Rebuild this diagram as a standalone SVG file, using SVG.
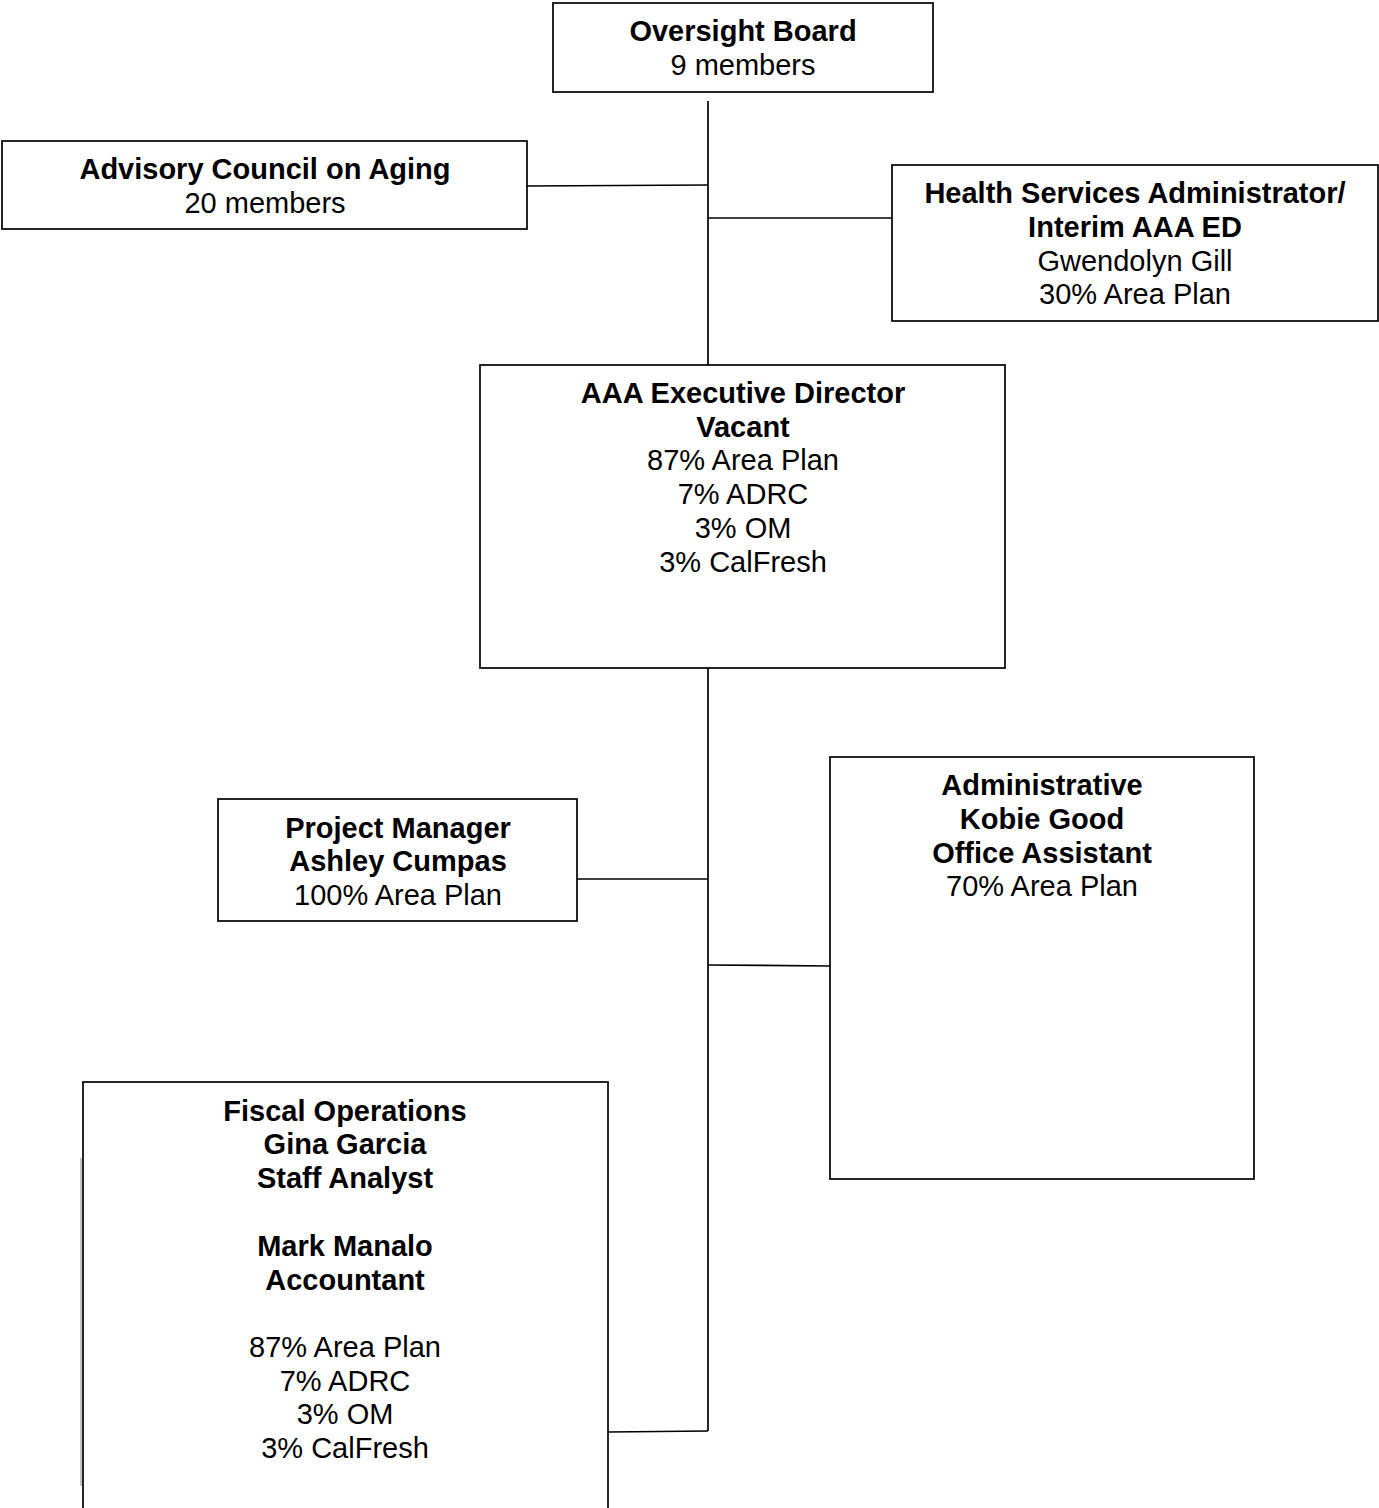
<svg xmlns="http://www.w3.org/2000/svg" width="1379" height="1508" viewBox="0 0 1379 1508">
<style>
.box{fill:#fff;stroke:#000;stroke-width:1.7}
.ln{stroke:#000;stroke-width:1.7;fill:none}
text{font-family:"Liberation Sans",Arial,sans-serif;font-size:29px;fill:#000;text-anchor:middle}
.b{font-weight:bold}
</style>
<rect width="1379" height="1508" fill="#fff"/>
<g id="connectors">
<line class="ln" x1="708" y1="101" x2="708" y2="365"/>
<line class="ln" x1="527" y1="186" x2="708" y2="185"/>
<line class="ln" x1="708" y1="218" x2="892" y2="218"/>
<line class="ln" x1="708" y1="668" x2="708" y2="1431"/>
<line class="ln" x1="577" y1="879" x2="708" y2="879"/>
<line class="ln" x1="708" y1="965" x2="830" y2="966"/>
<line class="ln" x1="608" y1="1432" x2="708" y2="1431"/>
</g>
<g id="oversight-board">
<rect class="box" x="553" y="3" width="380" height="89"/>
<text x="743" y="41" class="b">Oversight Board</text>
<text x="743" y="75">9 members</text>
</g>
<g id="advisory-council">
<rect class="box" x="2" y="141" width="525" height="88"/>
<text x="265" y="179" class="b">Advisory Council on Aging</text>
<text x="265" y="213">20 members</text>
</g>
<g id="health-services">
<rect class="box" x="892" y="165" width="486" height="156"/>
<text x="1135" y="203" class="b">Health Services Administrator/</text>
<text x="1135" y="237" class="b">Interim AAA ED</text>
<text x="1135" y="271">Gwendolyn Gill</text>
<text x="1135" y="304">30% Area Plan</text>
</g>
<g id="executive-director">
<rect class="box" x="480" y="365" width="525" height="303"/>
<text x="743" y="403" class="b">AAA Executive Director</text>
<text x="743" y="437" class="b">Vacant</text>
<text x="743" y="470">87% Area Plan</text>
<text x="743" y="504">7% ADRC</text>
<text x="743" y="538">3% OM</text>
<text x="743" y="572">3% CalFresh</text>
</g>
<g id="project-manager">
<rect class="box" x="218" y="799" width="359" height="122"/>
<text x="398" y="838" class="b">Project Manager</text>
<text x="398" y="871" class="b">Ashley Cumpas</text>
<text x="398" y="905">100% Area Plan</text>
</g>
<g id="administrative">
<rect class="box" x="830" y="757" width="424" height="422"/>
<text x="1042" y="795" class="b">Administrative</text>
<text x="1042" y="829" class="b">Kobie Good</text>
<text x="1042" y="863" class="b">Office Assistant</text>
<text x="1042" y="896">70% Area Plan</text>
</g>
<g id="fiscal-operations">
<rect class="box" x="83" y="1082" width="525" height="440"/>
<line x1="81" y1="1158" x2="81" y2="1486" stroke="#888" stroke-width="1"/>
<text x="345" y="1121" class="b">Fiscal Operations</text>
<text x="345" y="1154" class="b">Gina Garcia</text>
<text x="345" y="1188" class="b">Staff Analyst</text>
<text x="345" y="1256" class="b">Mark Manalo</text>
<text x="345" y="1290" class="b">Accountant</text>
<text x="345" y="1357">87% Area Plan</text>
<text x="345" y="1391">7% ADRC</text>
<text x="345" y="1424">3% OM</text>
<text x="345" y="1458">3% CalFresh</text>
</g>
</svg>
